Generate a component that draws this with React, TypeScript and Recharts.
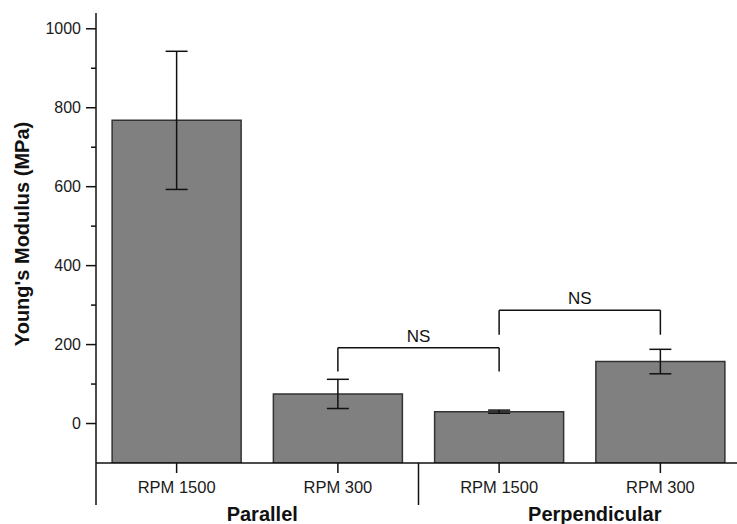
import { BarChart, Bar, XAxis, YAxis, ErrorBar, ReferenceLine } from 'recharts';

const groups = ['Parallel', 'Perpendicular'];
const categories = ['RPM 1500', 'RPM 300', 'RPM 1500', 'RPM 300'];
const ids = ['par1500', 'par300', 'perp1500', 'perp300'];
const means = [768, 75, 30, 157];
const errors = [175, 37, 4, 31];

const yMin = -100;
const yMax = 1040;
const yTicks = [0, 100, 200, 300, 400, 500, 600, 700, 800, 900, 1000];

// significance brackets between bars
const brackets = [
  { from: 'par300', to: 'perp1500', top: 192, leg: 132, label: 'NS' },
  { from: 'perp1500', to: 'perp300', top: 287, leg: 225, label: 'NS' },
];

const data = ids.map((id, i) => ({
  id,
  name: categories[i],
  range: [yMin, means[i]],
  err: errors[i],
}));

const FONT = '"Liberation Sans", Arial, sans-serif';
const INK = '#111';

const YTick = (props: any) => {
  const { x, y, payload } = props;
  const major = payload.value % 200 === 0;
  return (
    <g>
      <line x1={x - (major ? 10 : 5)} x2={x} y1={y} y2={y} stroke={INK} strokeWidth={1.5} />
      {major && (
        <text x={x - 15} y={y} textAnchor="end" dominantBaseline="central" fontSize={16} fill="#1a1a1a" fontFamily={FONT}>
          {payload.value}
        </text>
      )}
    </g>
  );
};

const XTick = (props: any) => {
  const { x, y, payload, index } = props;
  const half = payload.offset ?? 80.6;
  const groupStart = index % 2 === 0;
  return (
    <g>
      <line x1={x} x2={x} y1={y} y2={y + 10} stroke={INK} strokeWidth={1.5} />
      <text x={x} y={y + 24} textAnchor="middle" dominantBaseline="central" fontSize={16.5} fill="#1a1a1a" fontFamily={FONT}>
        {categories[index]}
      </text>
      {groupStart && (
        <>
          <line x1={x - half} x2={x - half} y1={y} y2={y + 42} stroke={INK} strokeWidth={1.5} />
          <text
            x={x + half + (index === 0 ? 5 : 15)}
            y={y + 51}
            textAnchor="middle"
            dominantBaseline="central"
            fontSize={20}
            fontWeight="bold"
            fill="#111"
            fontFamily={FONT}
          >
            {groups[index / 2]}
          </text>
        </>
      )}
    </g>
  );
};

const YLabel = (props: any) => {
  const { viewBox } = props;
  const cx = viewBox.x + 22;
  const cy = viewBox.y + viewBox.height / 2 - 4;
  return (
    <text
      x={cx}
      y={cy}
      transform={`rotate(-90, ${cx}, ${cy})`}
      textAnchor="middle"
      dominantBaseline="central"
      fontSize={20}
      fontWeight="bold"
      fill="#111"
      fontFamily={FONT}
    >
      Young's Modulus (MPa)
    </text>
  );
};

export default function App() {
  return (
    <div
      style={{
        position: 'absolute',
        left: 0,
        top: 0,
        width: 737,
        height: 524,
        overflow: 'hidden',
        background: '#fff',
      }}
    >
      <BarChart
        width={760}
        height={524}
        data={data}
        margin={{ top: 13, right: 19, left: 0, bottom: 0 }}
        barCategoryGap="10%"
        style={{ fontFamily: FONT }}
      >
        <XAxis
          dataKey="id"
          height={61}
          axisLine={{ stroke: INK, strokeWidth: 1.5 }}
          tickLine={false}
          tickSize={0}
          tickMargin={0}
          interval={0}
          tick={<XTick />}
        />
        <YAxis
          width={96}
          type="number"
          domain={[yMin, yMax]}
          ticks={yTicks}
          interval={0}
          allowDataOverflow
          axisLine={{ stroke: INK, strokeWidth: 1.5 }}
          tickLine={false}
          tickSize={0}
          tickMargin={0}
          tick={<YTick />}
          label={<YLabel />}
        />
        <Bar dataKey="range" fill="#808080" stroke="#333" strokeWidth={1.5} isAnimationActive={false}>
          <ErrorBar dataKey="err" width={11} stroke={INK} strokeWidth={1.5} direction="y" isAnimationActive={false} />
        </Bar>
        {brackets.map((b, i) => (
          <ReferenceLine
            key={`h${i}`}
            segment={[
              { x: b.from, y: b.top },
              { x: b.to, y: b.top },
            ]}
            stroke={INK}
            strokeWidth={1.5}
            label={{ value: b.label, position: 'top', offset: 6, fontSize: 17, fill: '#111', fontFamily: FONT }}
          />
        ))}
        {brackets.map((b, i) => (
          <ReferenceLine
            key={`l${i}`}
            segment={[
              { x: b.from, y: b.top },
              { x: b.from, y: b.leg },
            ]}
            stroke={INK}
            strokeWidth={1.5}
          />
        ))}
        {brackets.map((b, i) => (
          <ReferenceLine
            key={`r${i}`}
            segment={[
              { x: b.to, y: b.top },
              { x: b.to, y: b.leg },
            ]}
            stroke={INK}
            strokeWidth={1.5}
          />
        ))}
      </BarChart>
    </div>
  );
}
